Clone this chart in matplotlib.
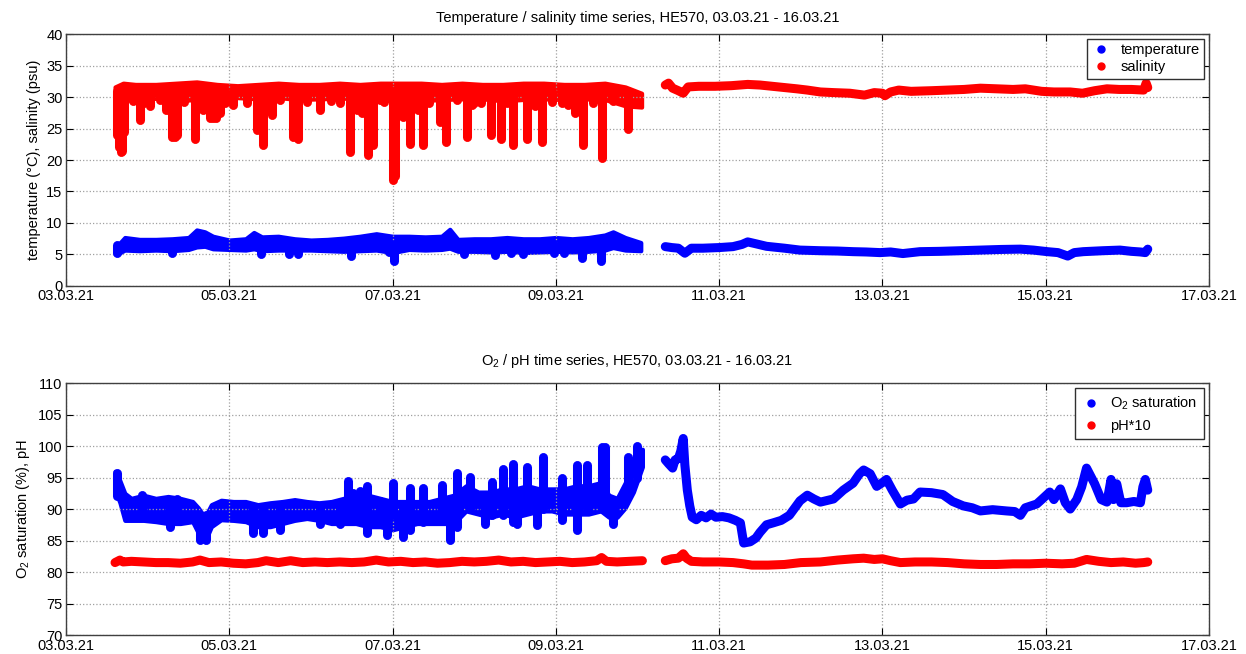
import numpy as np
import matplotlib
matplotlib.use('Agg')
import matplotlib.pyplot as plt
import matplotlib.dates as mdates
from matplotlib.lines import Line2D
from datetime import datetime, timedelta

matplotlib.rcParams.update({'font.family': ['Liberation Sans', 'DejaVu Sans'],
                            'font.size': 10.5,
                            'mathtext.fontset': 'custom',
                            'mathtext.rm': 'Liberation Sans',
                            'mathtext.it': 'Liberation Sans:italic',
                            'xtick.direction': 'in',
                            'ytick.direction': 'in',
                            'xtick.top': True,
                            'ytick.right': True,
                            'xtick.major.size': 5,
                            'ytick.major.size': 5,
                            'xtick.major.pad': 2.5,
                            'ytick.major.pad': 2.5,
                            'axes.linewidth': 1.0,
                            'axes.edgecolor': '#404040'})

# times are day of March 2021.
# noisy first legs: dense core band (t, low, high) + single excursions (t, low, high)
sal_band = [(3.60, 29.4, 31.6), (3.70, 29.6, 32.2), (3.85, 29.4, 32.0), (4.10, 29.8, 32.0),
            (4.35, 29.4, 32.2), (4.60, 29.6, 32.4), (4.85, 29.9, 32.0), (5.10, 29.9, 31.8),
            (5.35, 29.7, 32.0), (5.60, 29.9, 32.2), (5.85, 29.6, 32.0), (6.10, 29.7, 32.0),
            (6.35, 29.8, 32.2), (6.60, 29.8, 32.0), (6.85, 29.4, 32.2), (7.10, 29.7, 32.2),
            (7.35, 29.4, 32.2), (7.60, 29.6, 32.0), (7.85, 29.7, 32.2), (8.10, 29.7, 32.0),
            (8.35, 29.4, 32.0), (8.60, 29.6, 32.2), (8.85, 29.7, 32.2), (9.10, 29.6, 32.0),
            (9.35, 29.7, 32.0), (9.60, 29.6, 32.2), (9.85, 28.6, 31.6), (10.05, 28.4, 30.6)]
sal_dips = [(3.63, 24.0, 31.0), (3.65, 22.0, 31.0), (3.67, 21.3, 31.0), (3.69, 21.5, 31.0),
            (3.71, 24.5, 31.0), (3.82, 29.3, 31.0), (3.91, 26.4, 31.0), (3.95, 29.0, 31.0),
            (4.03, 28.5, 31.0), (4.15, 29.5, 31.0), (4.22, 27.9, 31.0), (4.26, 27.9, 31.0),
            (4.30, 23.7, 31.0), (4.33, 23.7, 31.0), (4.36, 23.9, 31.0), (4.45, 29.2, 31.0),
            (4.58, 23.4, 31.0), (4.68, 28.0, 31.0), (4.76, 26.6, 31.0), (4.80, 26.6, 31.0),
            (4.84, 26.6, 31.0), (4.88, 27.5, 31.0), (4.95, 29.0, 31.0), (5.05, 28.8, 31.0),
            (5.22, 29.0, 31.0), (5.34, 24.8, 31.0), (5.41, 22.4, 31.0), (5.52, 27.1, 31.0),
            (5.62, 29.6, 31.0), (5.78, 23.7, 31.0), (5.84, 23.4, 31.0), (5.95, 29.2, 31.0),
            (6.11, 28.0, 31.0), (6.24, 29.3, 31.0), (6.35, 29.0, 31.0), (6.48, 21.3, 31.0),
            (6.56, 28.0, 31.0), (6.62, 27.4, 31.0), (6.70, 20.8, 31.0), (6.76, 22.4, 31.0),
            (6.85, 29.5, 31.0), (6.90, 29.2, 31.0), (7.01, 16.8, 31.0), (7.03, 17.5, 31.0),
            (7.13, 26.9, 31.0), (7.21, 22.6, 31.0), (7.31, 28.0, 31.0), (7.37, 22.4, 31.0),
            (7.45, 29.0, 31.0), (7.58, 26.1, 31.0), (7.66, 22.9, 31.0), (7.79, 29.5, 31.0),
            (7.91, 23.7, 31.0), (7.97, 28.8, 31.0), (8.00, 29.0, 31.0), (8.08, 29.0, 31.0),
            (8.20, 24.0, 31.0), (8.33, 23.4, 31.0), (8.40, 29.0, 31.0), (8.48, 22.4, 31.0),
            (8.65, 23.4, 31.0), (8.75, 28.6, 31.0), (8.83, 22.9, 31.0), (8.95, 29.2, 31.0),
            (9.08, 29.0, 31.0), (9.15, 28.8, 31.0), (9.23, 27.4, 31.0), (9.33, 22.4, 31.0),
            (9.45, 29.0, 31.0), (9.56, 20.3, 31.0), (9.70, 29.4, 31.0), (9.88, 25.0, 31.0)]
sal_2 = [(10.34, 31.9), (10.38, 32.2), (10.43, 31.4), (10.50, 31.0), (10.56, 30.6), (10.62, 31.6),
         (10.75, 31.7), (10.95, 31.7), (11.15, 31.8), (11.35, 32.0), (11.50, 31.9), (11.65, 31.7),
         (11.80, 31.5), (11.95, 31.3), (12.08, 31.1), (12.24, 30.8), (12.40, 30.7), (12.60, 30.6),
         (12.78, 30.3), (12.90, 30.7), (13.00, 30.6), (13.03, 30.2), (13.10, 30.8), (13.20, 31.1),
         (13.35, 30.9), (13.60, 31.0), (13.80, 31.1), (14.00, 31.2), (14.20, 31.4), (14.40, 31.3),
         (14.60, 31.2), (14.75, 31.3), (14.95, 30.9), (15.10, 30.8), (15.30, 30.8), (15.45, 30.6),
         (15.60, 31.0), (15.75, 31.3), (15.90, 31.2), (16.05, 31.2), (16.20, 31.1), (16.23, 32.2),
         (16.25, 31.5)]

temp_band = [(3.60, 5.1, 6.2), (3.65, 5.2, 6.7), (3.72, 5.7, 7.7), (3.90, 5.6, 7.4), (4.10, 5.7, 7.4),
             (4.30, 5.6, 7.5), (4.50, 5.8, 7.7), (4.60, 6.2, 8.9), (4.70, 6.3, 8.6), (4.80, 5.9, 7.9),
             (5.00, 5.8, 7.3), (5.20, 5.7, 7.5), (5.30, 5.9, 8.5), (5.40, 5.6, 7.8), (5.60, 5.7, 7.9),
             (5.80, 5.7, 7.5), (6.00, 5.7, 7.3), (6.20, 5.6, 7.4), (6.40, 5.5, 7.6), (6.60, 5.6, 7.9),
             (6.80, 5.7, 8.3), (7.00, 5.3, 7.9), (7.20, 5.8, 7.9), (7.40, 5.7, 7.8), (7.60, 5.8, 7.9),
             (7.70, 6.0, 9.0), (7.80, 5.5, 7.4), (8.00, 5.5, 7.5), (8.20, 5.4, 7.5), (8.40, 5.5, 7.7),
             (8.60, 5.3, 7.5), (8.80, 5.4, 7.5), (9.00, 5.5, 7.7), (9.20, 5.4, 7.5), (9.40, 5.5, 7.7),
             (9.60, 5.7, 8.1), (9.70, 6.1, 8.6), (9.85, 5.7, 7.7), (10.04, 5.6, 6.9)]
temp_dips = [(3.62, 5.3, 6.5), (4.30, 5.3, 6.5), (5.39, 5.0, 6.5), (5.73, 5.0, 6.5), (5.84, 5.1, 6.5),
             (6.49, 4.8, 6.5), (6.95, 5.4, 6.5), (7.02, 3.9, 6.5), (7.88, 5.0, 6.5), (8.26, 4.9, 6.5),
             (8.45, 5.3, 6.5), (8.60, 5.0, 6.5), (8.98, 5.2, 6.5), (9.10, 5.2, 6.5), (9.32, 4.5, 6.5),
             (9.55, 3.9, 6.5)]
temp_2 = [(10.34, 6.25), (10.42, 6.1), (10.50, 6.0), (10.58, 5.2), (10.66, 6.0), (10.80, 6.0),
          (11.00, 6.1), (11.17, 6.25), (11.28, 6.6), (11.35, 7.0), (11.45, 6.7), (11.58, 6.3),
          (11.80, 6.0), (11.99, 5.7), (12.24, 5.6), (12.45, 5.55), (12.64, 5.45), (12.80, 5.4),
          (12.97, 5.3), (13.10, 5.4), (13.25, 5.15), (13.46, 5.45), (13.70, 5.5), (13.95, 5.6),
          (14.20, 5.7), (14.45, 5.8), (14.69, 5.85), (14.85, 5.7), (15.02, 5.45), (15.15, 5.3),
          (15.27, 4.75), (15.35, 5.3), (15.46, 5.45), (15.70, 5.6), (15.91, 5.7), (16.05, 5.5),
          (16.16, 5.4), (16.22, 5.3), (16.25, 5.85)]

o2_band = [(3.60, 93.0, 96.0), (3.66, 91.0, 94.5), (3.72, 88.2, 92.5), (3.80, 88.2, 91.7),
           (3.95, 88.2, 92.2), (4.10, 88.0, 91.7), (4.25, 87.7, 92.0), (4.40, 87.7, 91.7),
           (4.55, 88.0, 91.2), (4.62, 86.2, 90.2), (4.70, 84.8, 88.7), (4.78, 87.2, 90.7),
           (4.90, 88.3, 91.4), (5.05, 88.2, 91.2), (5.20, 88.0, 91.2), (5.35, 87.2, 90.7),
           (5.50, 87.2, 91.0), (5.65, 87.7, 91.2), (5.80, 88.2, 91.5), (5.95, 88.5, 91.2),
           (6.10, 88.2, 91.0), (6.25, 87.7, 91.2), (6.40, 87.7, 91.7), (6.55, 87.7, 92.2),
           (6.70, 87.2, 92.2), (6.85, 87.2, 91.7), (7.00, 86.7, 91.2), (7.15, 87.2, 91.2),
           (7.30, 87.7, 91.2), (7.45, 87.7, 91.2), (7.60, 87.7, 91.7), (7.75, 87.7, 92.2),
           (7.90, 89.7, 93.7), (8.05, 89.2, 92.7), (8.20, 88.7, 92.7), (8.35, 89.2, 93.2),
           (8.50, 88.7, 93.2), (8.65, 89.2, 93.7), (8.80, 89.7, 93.2), (8.95, 89.7, 93.2),
           (9.10, 89.2, 93.2), (9.25, 89.2, 93.7), (9.40, 89.2, 93.7), (9.55, 89.7, 94.2),
           (9.65, 88.7, 92.2), (9.75, 88.7, 91.7), (9.85, 90.2, 94.2), (9.95, 92.7, 97.2),
           (10.06, 96.7, 99.5)]
o2_spikes = [(3.62, 92.0, 95.7), (3.93, 89.0, 92.2), (4.27, 87.1, 91.0), (4.36, 89.0, 91.6),
             (4.64, 85.1, 89.0), (4.72, 85.1, 89.0), (5.29, 86.2, 90.0), (5.41, 86.2, 90.0),
             (5.62, 86.7, 90.0), (6.11, 87.7, 90.0), (6.36, 87.7, 90.0), (6.45, 89.0, 94.4),
             (6.52, 88.5, 92.5), (6.60, 88.5, 92.8), (6.69, 86.2, 93.6), (6.85, 88.0, 91.2),
             (6.93, 85.9, 90.0), (7.01, 89.0, 94.2), (7.13, 85.6, 90.0), (7.21, 86.7, 93.3),
             (7.37, 88.0, 93.3), (7.61, 88.6, 93.8), (7.70, 85.1, 90.0), (7.79, 87.2, 95.7),
             (7.95, 90.0, 95.1), (8.13, 87.7, 91.0), (8.22, 89.0, 94.3), (8.35, 89.0, 96.4),
             (8.48, 88.0, 97.2), (8.52, 87.7, 92.0), (8.65, 90.0, 96.7), (8.77, 87.4, 92.0),
             (8.84, 90.0, 98.3), (9.08, 88.2, 94.9), (9.26, 86.7, 97.0), (9.38, 90.0, 97.0),
             (9.56, 90.0, 99.8), (9.60, 90.0, 99.8), (9.70, 87.7, 91.0), (9.88, 92.0, 98.3),
             (9.99, 95.0, 100.0)]
o2_2 = [(10.34, 97.8), (10.38, 97.2), (10.43, 96.5), (10.46, 97.8), (10.50, 98.0), (10.53, 99.2),
        (10.56, 101.2), (10.58, 97.0), (10.61, 93.0), (10.64, 90.5), (10.67, 88.7), (10.72, 88.3),
        (10.78, 89.0), (10.84, 88.6), (10.90, 89.2), (10.96, 88.7), (11.04, 88.8), (11.12, 88.6),
        (11.20, 88.2), (11.26, 87.8), (11.30, 84.6), (11.38, 84.8), (11.45, 85.4), (11.50, 86.3),
        (11.58, 87.5), (11.66, 87.8), (11.76, 88.2), (11.86, 89.0), (11.99, 91.3), (12.08, 92.2),
        (12.16, 91.6), (12.24, 91.1), (12.40, 91.6), (12.52, 93.0), (12.64, 94.1), (12.72, 95.6),
        (12.77, 96.2), (12.85, 95.6), (12.93, 93.6), (13.00, 94.2), (13.05, 94.7), (13.12, 93.0),
        (13.22, 90.8), (13.30, 91.4), (13.38, 91.6), (13.46, 92.7), (13.60, 92.6), (13.74, 92.3),
        (13.86, 91.2), (13.99, 90.5), (14.10, 90.2), (14.20, 89.7), (14.35, 89.9), (14.52, 89.7),
        (14.62, 89.6), (14.69, 89.0), (14.75, 90.2), (14.89, 90.8), (14.95, 91.5), (15.05, 92.7),
        (15.10, 91.5), (15.18, 93.2), (15.24, 91.0), (15.30, 90.0), (15.38, 91.5), (15.44, 93.5),
        (15.50, 96.5), (15.60, 94.0), (15.68, 91.5), (15.75, 91.1), (15.80, 94.7), (15.83, 91.5),
        (15.87, 94.0), (15.92, 91.0), (15.99, 91.0), (16.08, 91.2), (16.16, 91.0), (16.19, 93.5),
        (16.22, 94.7), (16.25, 93.0)]

ph_1 = [(3.60, 81.5), (3.66, 81.9), (3.70, 81.6), (3.80, 81.7), (3.95, 81.6), (4.10, 81.5),
        (4.25, 81.5), (4.40, 81.4), (4.55, 81.6), (4.64, 81.9), (4.75, 81.5), (4.90, 81.6),
        (5.05, 81.4), (5.20, 81.3), (5.35, 81.5), (5.45, 81.8), (5.60, 81.5), (5.75, 81.8),
        (5.90, 81.5), (6.05, 81.6), (6.20, 81.5), (6.35, 81.6), (6.50, 81.5), (6.65, 81.6),
        (6.80, 81.9), (6.95, 81.6), (7.10, 81.7), (7.25, 81.5), (7.40, 81.6), (7.55, 81.4),
        (7.70, 81.5), (7.85, 81.7), (8.00, 81.6), (8.15, 81.7), (8.30, 81.9), (8.45, 81.6),
        (8.60, 81.7), (8.75, 81.5), (8.90, 81.6), (9.05, 81.7), (9.20, 81.5), (9.35, 81.6),
        (9.50, 81.8), (9.56, 82.3), (9.62, 81.7), (9.75, 81.6), (9.90, 81.7), (10.06, 81.8)]
ph_2 = [(10.34, 81.8), (10.42, 82.1), (10.50, 82.2), (10.56, 82.9), (10.60, 82.2), (10.66, 81.7),
        (10.80, 81.6), (11.00, 81.6), (11.17, 81.5), (11.30, 81.3), (11.40, 81.1), (11.60, 81.1),
        (11.80, 81.2), (12.00, 81.5), (12.24, 81.6), (12.45, 81.9), (12.64, 82.1), (12.77, 82.2),
        (12.90, 82.0), (13.00, 82.1), (13.10, 81.8), (13.22, 81.5), (13.40, 81.6), (13.60, 81.6),
        (13.80, 81.5), (14.00, 81.3), (14.20, 81.2), (14.40, 81.2), (14.60, 81.3), (14.80, 81.3),
        (15.00, 81.4), (15.20, 81.3), (15.35, 81.4), (15.50, 82.0), (15.65, 81.7), (15.80, 81.5),
        (15.95, 81.6), (16.10, 81.4), (16.20, 81.5), (16.25, 81.6)]

start_day = datetime(2021, 3, 3)
end_day = datetime(2021, 3, 17)
LW = 6.5


def to_dates(days):
    return [datetime(2021, 3, 1) + timedelta(days=float(d) - 1) for d in days]


def draw_line(ax, pairs, color):
    arr = np.array(pairs)
    ax.plot(to_dates(arr[:, 0]), arr[:, 1], '-', color=color, lw=LW,
            solid_capstyle='round', solid_joinstyle='round')


def draw_band(ax, band, color):
    arr = np.array(band)
    ax.fill_between(to_dates(arr[:, 0]), arr[:, 1], arr[:, 2], color=color,
                    edgecolor=color, lw=3)


def draw_spikes(ax, spikes, color):
    arr = np.array(spikes)
    lc = ax.vlines(to_dates(arr[:, 0]), arr[:, 1], arr[:, 2], color=color, lw=LW)
    lc.set_capstyle('round')


def style(ax, ylim, yticks, ylabel, title, tpad):
    ax.set_xlim(start_day, end_day)
    ax.set_ylim(*ylim)
    ax.set_yticks(yticks)
    ax.xaxis.set_major_locator(mdates.DayLocator(interval=2))
    ax.xaxis.set_major_formatter(mdates.DateFormatter('%d.%m.%y'))
    ax.grid(True, linestyle=':', color='#a0a0a0', linewidth=0.9)
    ax.set_ylabel(ylabel, labelpad=4)
    ax.set_title(title, fontsize=10.5, pad=tpad)


fig = plt.figure(figsize=(12.46, 6.54), dpi=100)
ax1 = fig.add_axes([0.053, 0.5627, 0.9173, 0.3853])
ax2 = fig.add_axes([0.053, 0.029, 0.9173, 0.3853])

draw_band(ax1, sal_band, 'red')
draw_spikes(ax1, sal_dips, 'red')
draw_line(ax1, sal_2, 'red')
draw_band(ax1, temp_band, 'blue')
draw_spikes(ax1, temp_dips, 'blue')
draw_line(ax1, temp_2, 'blue')
style(ax1, (0, 40), np.arange(0, 41, 5), 'temperature (°C), salinity (psu)',
      'Temperature / salinity time series, HE570, 03.03.21 - 16.03.21', 9)
h1 = [Line2D([], [], ls='', marker='o', ms=5, color='blue', label='temperature'),
      Line2D([], [], ls='', marker='o', ms=5, color='red', label='salinity')]
ax1.legend(handles=h1, loc='upper right', fancybox=False, framealpha=1, edgecolor='#303030',
           borderaxespad=0.35, handlelength=1.4, handletextpad=0.6, borderpad=0.3,
           labelspacing=0.2)

draw_line(ax2, ph_1, 'red')
draw_line(ax2, ph_2, 'red')
draw_band(ax2, o2_band, 'blue')
draw_spikes(ax2, o2_spikes, 'blue')
draw_line(ax2, o2_2, 'blue')
style(ax2, (70, 110), np.arange(70, 111, 5), 'O$_2$ saturation (%), pH',
      'O$_2$ / pH time series, HE570, 03.03.21 - 16.03.21', 13)
h2 = [Line2D([], [], ls='', marker='o', ms=5, color='blue', label='O$_2$ saturation'),
      Line2D([], [], ls='', marker='o', ms=5, color='red', label='pH*10')]
ax2.legend(handles=h2, loc='upper right', fancybox=False, framealpha=1, edgecolor='#303030',
           borderaxespad=0.35, handlelength=1.4, handletextpad=0.6, borderpad=0.45,
           labelspacing=0.45)

fig.savefig('out.png', dpi=100)
